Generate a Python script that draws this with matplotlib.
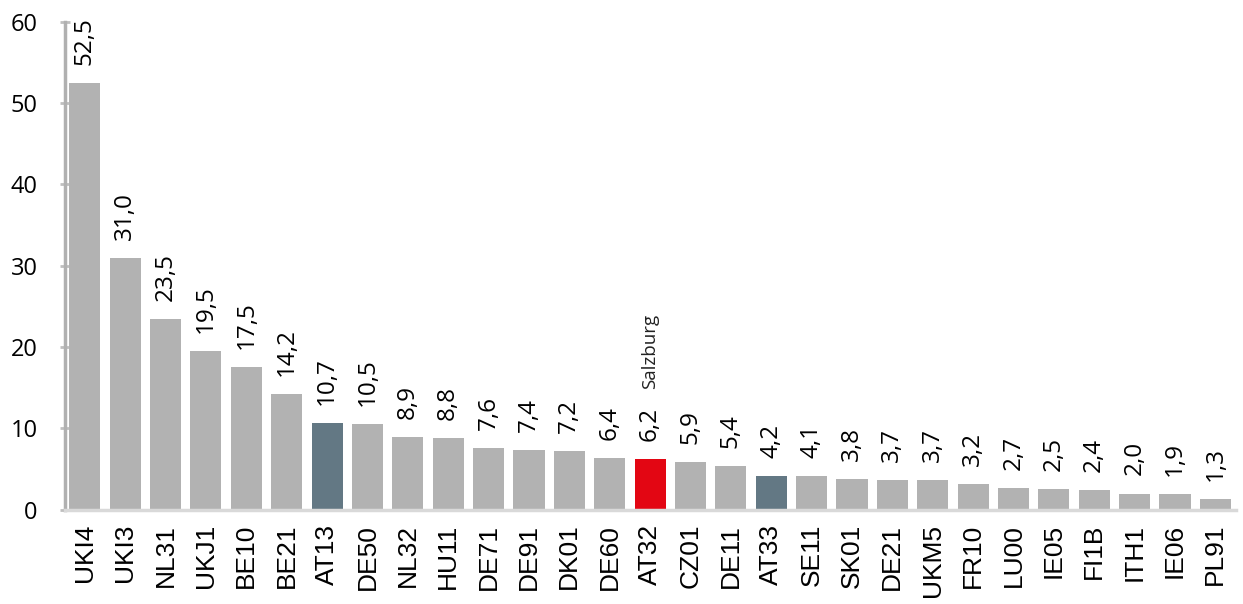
import matplotlib.pyplot as plt

regions = ['UKI4', 'UKI3', 'NL31', 'UKJ1', 'BE10', 'BE21', 'AT13', 'DE50', 'NL32', 'HU11',
           'DE71', 'DE91', 'DK01', 'DE60', 'AT32', 'CZ01', 'DE11', 'AT33', 'SE11', 'SK01',
           'DE21', 'UKM5', 'FR10', 'LU00', 'IE05', 'FI1B', 'ITH1', 'IE06', 'PL91']
values = [52.5, 31.0, 23.5, 19.5, 17.5, 14.2, 10.7, 10.5, 8.9, 8.8,
          7.6, 7.4, 7.2, 6.4, 6.2, 5.9, 5.4, 4.2, 4.1, 3.8,
          3.7, 3.7, 3.2, 2.7, 2.5, 2.4, 2.0, 1.9, 1.3]
highlight = 'AT32'
austria = ['AT13', 'AT33']

colors = []
for r in regions:
    if r == highlight:
        colors.append('#e30613')
    elif r in austria:
        colors.append('#637884')
    else:
        colors.append('#b2b2b2')

fig = plt.figure(figsize=(12.43, 6.04), dpi=100)
ax = fig.add_axes([0.052, 0.156, 0.942, 0.808])

x = list(range(len(regions)))
bars = ax.bar(x, values, width=0.77, color=colors, zorder=2)

for xi, v, r in zip(x, values, regions):
    t = ax.annotate(f'{v:.1f}'.replace('.', ','), xy=(xi, v), xytext=(0, 13),
                    textcoords='offset points', rotation=90, ha='center', va='bottom',
                    fontsize=17.5, family='Open Sans', color='black')
    if r == highlight:
        ax.annotate('Salzburg', xy=(0.5, 1), xycoords=t, xytext=(0, 13),
                    textcoords='offset points', rotation=90, ha='center', va='bottom',
                    fontsize=13.5, family='Open Sans', color='#222222')

ax.set_xlim(-0.5, len(regions) - 0.5)
ax.set_ylim(0, 60)
ax.set_yticks(range(0, 61, 10))
ax.set_xticks(x)
ax.set_xticklabels(regions, rotation=90)

ax.tick_params(axis='x', length=0, pad=10, labelsize=19, labelfontfamily='Liberation Sans')
ax.tick_params(axis='y', direction='inout', length=7, width=2, color='#bfbfbf', pad=16,
               labelsize=17, labelfontfamily='Open Sans')

for s in ['top', 'right']:
    ax.spines[s].set_visible(False)
ax.spines['left'].set_color('#b0b0b0')
ax.spines['left'].set_linewidth(2.5)
ax.spines['bottom'].set_color('#d9d9d9')
ax.spines['bottom'].set_linewidth(2.5)

fig.savefig('out.png', dpi=100)
